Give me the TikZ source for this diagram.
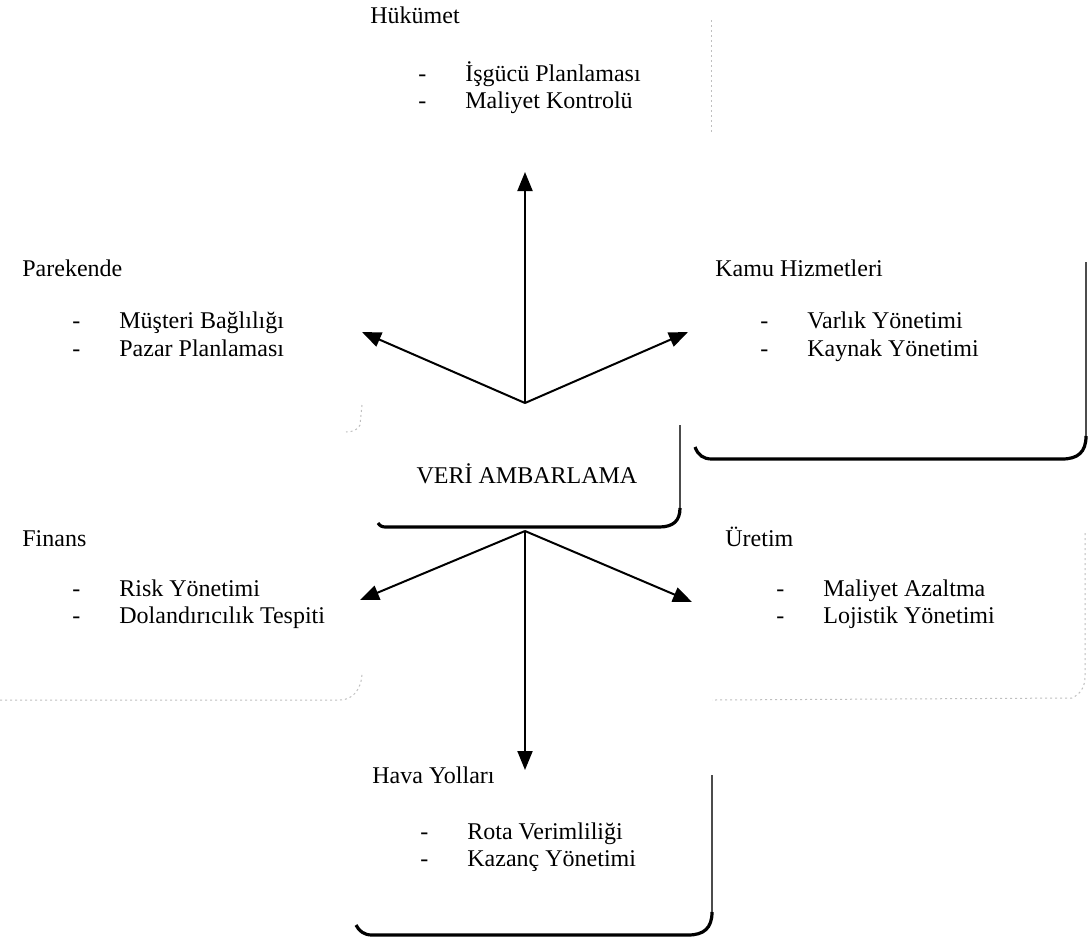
\documentclass[tikz,border=0pt]{standalone}
\usepackage{fontspec}
\setmainfont{Liberation Serif}
\usetikzlibrary{arrows.meta}
\newcommand\dashitem[1]{\makebox[23.5pt][l]{-}#1}
\begin{document}
\begin{tikzpicture}[x=0.5pt,y=-0.5pt,
  every node/.style={font=\fontsize{12}{13.8}\selectfont, inner sep=0pt},
  lbl/.style={anchor=base west},
  link/.style={line width=1pt, -{Triangle[length=9.5pt,width=7.5pt]}},
  frameR/.style={draw=black!70, line width=0.6pt},
  frameB/.style={draw=black, line width=1.6pt},
  faint/.style={draw=black!25, line width=0.5pt, dash pattern=on 1pt off 1.5pt}]
\useasboundingbox (0,0) rectangle (1090,949);

% ---- sector labels ----
\node[lbl] (hukT) at (370,23) {Hükümet};
\node[lbl] (huk1) at (418,81) {\dashitem{İşgücü Planlaması}};
\node[lbl] (huk2) at (418,108) {\dashitem{Maliyet Kontrolü}};

\node[lbl] (parT) at (22,276) {Parekende};
\node[lbl] (par1) at (72,328) {\dashitem{Müşteri Bağlılığı}};
\node[lbl] (par2) at (72,356) {\dashitem{Pazar Planlaması}};

\node[lbl] (kamT) at (715,276) {Kamu Hizmetleri};
\node[lbl] (kam1) at (760,328) {\dashitem{Varlık Yönetimi}};
\node[lbl] (kam2) at (760,356) {\dashitem{Kaynak Yönetimi}};

\node[anchor=base] (veri) at (527,483) {VERİ AMBARLAMA};

\node[lbl] (finT) at (22,546) {Finans};
\node[lbl] (fin1) at (72,596) {\dashitem{Risk Yönetimi}};
\node[lbl] (fin2) at (72,623) {\dashitem{Dolandırıcılık Tespiti}};

\node[lbl] (uretT) at (725,546) {Üretim};
\node[lbl] (uret1) at (776,596) {\dashitem{Maliyet Azaltma}};
\node[lbl] (uret2) at (776,623) {\dashitem{Lojistik Yönetimi}};

\node[lbl] (havT) at (372,783) {Hava Yolları};
\node[lbl] (hav1) at (420,839) {\dashitem{Rota Verimliliği}};
\node[lbl] (hav2) at (420,866) {\dashitem{Kazanç Yönetimi}};

% ---- shadow frames (right edge + rounded bottom) ----
% Kamu Hizmetleri
\draw[frameR] (1086,262) -- (1086,436);
\draw[frameB] (1086,436) .. controls (1086,452) and (1078,459) .. (1062,459)
  -- (712,459) .. controls (703,459) and (698,455) .. (695,447);
% VERİ AMBARLAMA
\draw[frameR] (680,425) -- (680,508);
\draw[frameB] (680,508) .. controls (680,521) and (673,527) .. (659,527)
  -- (386,527) .. controls (382,527) and (380,526) .. (378,523);
% Hava Yolları
\draw[frameR] (712,775) -- (712,912);
\draw[frameB] (712,912) .. controls (712,928) and (704,935) .. (688,935)
  -- (372,935) .. controls (364,935) and (359,931) .. (356,925);
% faint frames
\draw[faint] (711,20) -- (711,135);
\draw[faint] (362,405) -- (360,425) .. controls (358,430) and (352,432) .. (346,432);
\draw[faint] (0,700) -- (340,700) .. controls (352,700) and (362,690) .. (362,672);
\draw[faint] (1085,533) -- (1085,676) .. controls (1085,688) and (1080,694) .. (1072,698) -- (712,700);

% ---- connectors ----
\coordinate (hubA) at (525,403);
\coordinate (hubB) at (525,531);
\coordinate (tipN) at (525,172);
\coordinate (tipNW) at (362,332);
\coordinate (tipNE) at (688,332);
\coordinate (tipSW) at (360,600);
\coordinate (tipSE) at (692,602);
\coordinate (tipS) at (525,770);
\draw[link] (hubA) -- (tipN);
\draw[link] (hubA) -- (tipNW);
\draw[link] (hubA) -- (tipNE);
\draw[link] (hubB) -- (tipSW);
\draw[link] (hubB) -- (tipSE);
\draw[link] (hubB) -- (tipS);
\end{tikzpicture}
\end{document}
